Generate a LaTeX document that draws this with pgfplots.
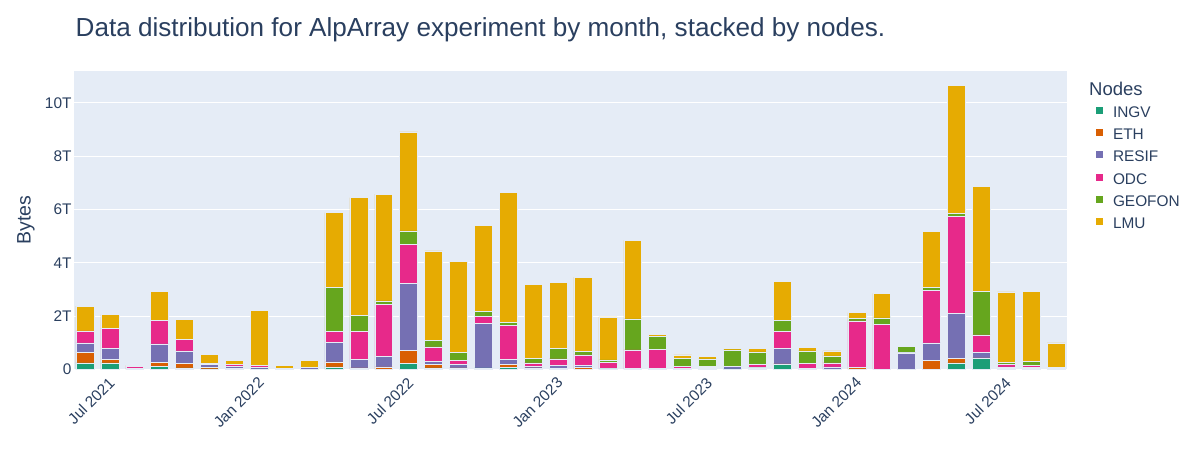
\documentclass[border=0pt]{standalone}
\usepackage{pgfplots}
\pgfplotsset{compat=1.18}
\usepackage{pgfplotstable}
\usepackage{fontspec}
\setmainfont{Liberation Sans}
\definecolor{cINGV}{HTML}{1B9E77}
\definecolor{cETH}{HTML}{D95F02}
\definecolor{cRESIF}{HTML}{7570B3}
\definecolor{cODC}{HTML}{E7298A}
\definecolor{cGEOFON}{HTML}{66A61E}
\definecolor{cLMU}{HTML}{E6AB02}
\definecolor{plotbg}{HTML}{E5ECF6}
\definecolor{txt}{HTML}{2A3F5F}
\pgfplotstableread{
idx INGV ETH RESIF ODC GEOFON LMU
0 0.25 0.38 0.37 0.45 0 0.93
1 0.25 0.13 0.40 0.77 0 0.51
2 0 0.03 0.02 0.07 0 0.03
3 0.12 0.15 0.69 0.87 0 1.11
4 0.06 0.16 0.48 0.44 0 0.74
5 0.02 0.07 0.09 0.06 0 0.34
6 0 0.05 0.08 0.06 0 0.16
7 0.02 0 0.07 0.06 0 2.06
8 0 0 0.04 0 0 0.11
9 0 0 0.08 0 0 0.27
10 0.10 0.19 0.74 0.39 1.67 2.80
11 0 0.06 0.32 1.05 0.61 4.41
12 0 0.10 0.38 1.96 0.13 4.01
13 0.23 0.50 2.49 1.48 0.50 3.72
14 0.06 0.12 0.12 0.55 0.25 3.35
15 0.03 0.03 0.12 0.17 0.30 3.40
16 0.06 0 1.66 0.26 0.20 3.22
17 0.09 0.09 0.20 1.27 0.13 4.86
18 0.03 0.03 0.07 0.12 0.18 2.76
19 0.03 0 0.12 0.25 0.39 2.48
20 0 0.09 0.06 0.40 0.14 2.78
21 0.02 0 0.02 0.24 0.08 1.61
22 0 0 0.04 0.70 1.16 2.94
23 0 0 0.04 0.72 0.49 0.07
24 0 0 0.05 0.08 0.28 0.14
25 0.03 0 0.06 0.04 0.27 0.10
26 0.02 0 0.10 0 0.62 0.04
27 0.06 0 0.03 0.09 0.48 0.14
28 0.19 0.02 0.57 0.64 0.43 1.45
29 0 0 0.03 0.20 0.47 0.14
30 0 0 0.10 0.15 0.26 0.19
31 0 0.07 0.01 1.74 0.10 0.21
32 0 0 0 1.68 0.26 0.92
33 0 0 0.62 0.01 0.23 0.04
34 0 0.34 0.66 1.97 0.12 2.10
35 0.25 0.16 1.70 3.63 0.12 4.79
36 0.41 0.03 0.19 0.67 1.62 3.95
37 0.05 0 0.05 0.09 0.09 2.63
38 0.03 0 0.05 0.07 0.16 2.61
39 0 0 0.03 0.05 0 0.92
}\datatable
\pgfplotsset{sqlegend/.style={legend image code/.code={\fill[##1,draw=none] (0pt,-2pt) rectangle (7pt,5pt);}}}
\begin{document}
\begin{tikzpicture}
\path[use as bounding box] (0,0) rectangle (1200pt,449pt);
\begin{axis}[
  at={(74pt,79.5pt)}, anchor=south west,
  scale only axis, width=993pt, height=298.5pt,
  ybar stacked, bar width=0.72,
  xmin=-0.44, xmax=39.44, ymin=0, ymax=11.2,
  axis background/.style={fill=plotbg},
  axis line style={draw=none},
  major tick length=0pt,
  xtick={1,7,13,19,25,31,37},
  xticklabels={Jul 2021,Jan 2022,Jul 2022,Jan 2023,Jul 2023,Jan 2024,Jul 2024},
  ytick={0,2,4,6,8,10},
  yticklabels={0,2T,4T,6T,8T,10T},
  ymajorgrids, grid style={white, line width=1pt},
  tick label style={font=\fontsize{15.4}{15.4}\selectfont, text=txt, inner sep=0pt},
  xticklabel style={xshift=2pt, yshift=-10.5pt, rotate=45, anchor=east},
  yticklabel style={xshift=-2.3pt, anchor=east},
  ylabel={Bytes},
  ylabel style={at={(axis description cs:-0.0483,0.5)}, anchor=center, font=\fontsize{19.5}{19.5}\selectfont, text=txt, inner sep=0pt},
  title={Data distribution for AlpArray experiment by month, stacked by nodes.},
  title style={at={(axis description cs:0.0015,1.096)}, anchor=base west, yshift=0pt, font=\fontsize{26.1}{26.1}\selectfont, text=txt, inner sep=0pt},
  legend cell align=left,
  legend style={at={(1.0292,0.8811)}, anchor=north west, draw=none, fill=none, inner sep=0pt, outer sep=0pt,
    font=\fontsize{15.4}{15.4}\selectfont, text=txt,
    nodes={inner sep=0pt, text height=11pt, text depth=0pt},
    row sep=11.2pt, column sep=10pt},
  every axis plot/.append style={draw=plotbg, line width=0.5pt},
]
\addplot[fill=cINGV, sqlegend] table[x=idx,y=INGV]{\datatable};
\addlegendentry{INGV}
\addplot[fill=cETH, sqlegend] table[x=idx,y=ETH]{\datatable};
\addlegendentry{ETH}
\addplot[fill=cRESIF, sqlegend] table[x=idx,y=RESIF]{\datatable};
\addlegendentry{RESIF}
\addplot[fill=cODC, sqlegend] table[x=idx,y=ODC]{\datatable};
\addlegendentry{ODC}
\addplot[fill=cGEOFON, sqlegend] table[x=idx,y=GEOFON]{\datatable};
\addlegendentry{GEOFON}
\addplot[fill=cLMU, sqlegend] table[x=idx,y=LMU]{\datatable};
\addlegendentry{LMU}
\end{axis}
\node[anchor=base west, font=\fontsize{18.5}{18.5}\selectfont, text=txt, inner sep=0pt] at (1089pt,353pt) {Nodes};
\end{tikzpicture}
\end{document}
